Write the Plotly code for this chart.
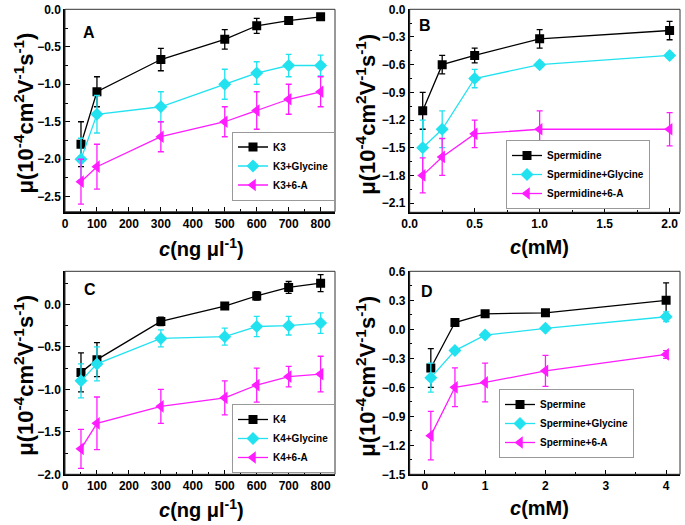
import plotly.graph_objects as go

# ---------------- data ----------------
conc_ng = [50, 100, 300, 500, 600, 700, 800]
conc_spd = [0.1, 0.25, 0.5, 1.0, 2.0]
conc_spm = [0.1, 0.5, 1, 2, 4]

# Panel A
k3 = [-1.8, -1.1, -0.67, -0.4, -0.22, -0.15, -0.1]
k3_err = [0.3, 0.2, 0.15, 0.13, 0.1, 0.03, 0.02]
k3_gly = [-2.0, -1.4, -1.3, -1.0, -0.85, -0.75, -0.75]
k3_gly_err = [0.28, 0.25, 0.2, 0.2, 0.15, 0.15, 0.14]
k3_6a = [-2.3, -2.1, -1.7, -1.5, -1.35, -1.2, -1.1]
k3_6a_err = [0.3, 0.3, 0.2, 0.2, 0.25, 0.2, 0.2]

# Panel B
spd = [-1.1, -0.6, -0.5, -0.32, -0.23]
spd_err = [0.2, 0.1, 0.08, 0.1, 0.1]
spd_gly = [-1.5, -1.3, -0.75, -0.6, -0.5]
spd_gly_err = [0.3, 0.2, 0.1, 0.03, 0.03]
spd_6a = [-1.8, -1.6, -1.35, -1.3, -1.3]
spd_6a_err = [0.19, 0.2, 0.15, 0.2, 0.18]

# Panel C
k4 = [-0.8, -0.65, -0.2, -0.02, 0.1, 0.2, 0.25]
k4_err = [0.23, 0.2, 0.05, 0.02, 0.05, 0.07, 0.1]
k4_gly = [-0.9, -0.7, -0.4, -0.38, -0.26, -0.25, -0.22]
k4_gly_err = [0.2, 0.2, 0.1, 0.1, 0.12, 0.11, 0.12]
k4_6a = [-1.7, -1.4, -1.2, -1.1, -0.95, -0.85, -0.82]
k4_6a_err = [0.23, 0.31, 0.2, 0.2, 0.2, 0.12, 0.21]

# Panel D
spm = [-0.4, 0.07, 0.16, 0.17, 0.3]
spm_err = [0.2, 0.02, 0.02, 0.02, 0.18]
spm_gly = [-0.5, -0.22, -0.06, 0.01, 0.13]
spm_gly_err = [0.15, 0.02, 0.02, 0.02, 0.05]
spm_6a = [-1.1, -0.6, -0.55, -0.43, -0.26]
spm_6a_err = [0.25, 0.2, 0.2, 0.16, 0.04]

panel_letters = ["A", "B", "C", "D"]
ytitle = "μ(10<sup>-4</sup>cm<sup>2</sup>V<sup>-1</sup>s<sup>-1</sup>)"
xtitle_ng = "<i>c</i>(ng μl<sup>-1</sup>)"
xtitle_mm = "<i>c</i>(mM)"

# ---------------- styling ----------------
W, H = 685, 525
FONT = "Liberation Sans, Arial, sans-serif"
BLACK = "#000000"
CYAN = "#22e2f0"
MAGENTA = "#ff1dff"

def px_x(v):
    return v / W

def px_y(v):
    return 1 - v / H

# plot areas in pixels (left, right, top, bottom)
areas = [
    (65, 335, 9.3, 211.7),
    (409.7, 680, 9.3, 212.3),
    (65, 335, 271.3, 474.3),
    (409.7, 680, 271.3, 474.3),
]

fig = go.Figure()

panels = [
    (conc_ng, [(k3, k3_err, "K3"), (k3_gly, k3_gly_err, "K3+Glycine"), (k3_6a, k3_6a_err, "K3+6-A")]),
    (conc_spd, [(spd, spd_err, "Spermidine"), (spd_gly, spd_gly_err, "Spermidine+Glycine"), (spd_6a, spd_6a_err, "Spermidine+6-A")]),
    (conc_ng, [(k4, k4_err, "K4"), (k4_gly, k4_gly_err, "K4+Glycine"), (k4_6a, k4_6a_err, "K4+6-A")]),
    (conc_spm, [(spm, spm_err, "Spermine"), (spm_gly, spm_gly_err, "Spermine+Glycine"), (spm_6a, spm_6a_err, "Spermine+6-A")]),
]
styles = [
    (BLACK, "square", 9),
    (CYAN, "diamond", 10),
    (MAGENTA, "triangle-left", 11),
]

for i, (xs, series) in enumerate(panels):
    sfx = "" if i == 0 else str(i + 1)
    for (ys, errs, name), (col, sym, sz) in zip(series, styles):
        fig.add_trace(go.Scatter(
            x=xs, y=ys, name=name, mode="lines+markers",
            xaxis="x" + sfx, yaxis="y" + sfx,
            legend="legend" + sfx,
            line=dict(color=col, width=1.3),
            marker=dict(color=col, symbol=sym, size=sz, line=dict(width=0)),
            error_y=dict(type="data", array=errs, color=col, thickness=1.3, width=3),
        ))

xranges = [[0, 845], [0, 2.08], [0, 845], [-0.25, 4.23]]
yranges = [[-2.7, 0], [-2.2, 0], [-2.0, 0.39], [-1.5, 0.6]]
xdt = [100, 0.5, 100, 1]
ydt = [0.5, 0.3, 0.5, 0.3]
xfmt = ["d", ".1f", "d", "d"]

layout = dict(
    width=W, height=H,
    margin=dict(l=0, r=0, t=0, b=0, autoexpand=False),
    paper_bgcolor="white", plot_bgcolor="white",
    font=dict(family=FONT, color=BLACK),
    showlegend=True,
)

tickfont = dict(family=FONT, size=12, color=BLACK, weight="bold")
shapes = []
annotations = []
legend_pos = [(232, 131.5), (506, 140), (232, 404), (499, 389)]
letter_pos = [(89, 33), (425, 25), (90, 289), (427, 291)]

for i in range(4):
    sfx = "" if i == 0 else str(i + 1)
    l, r, t, b = areas[i]
    layout["xaxis" + sfx] = dict(
        domain=[px_x(l), px_x(r)], range=xranges[i], anchor="y" + sfx,
        dtick=xdt[i], tick0=0, tickformat=xfmt[i], automargin=False,
        ticks="inside", ticklen=5, tickwidth=1.2, tickcolor=BLACK,
        minor=dict(ticks="inside", ticklen=3, tickwidth=1, tickcolor=BLACK, dtick=xdt[i] / 2),
        showline=True, linecolor=BLACK, linewidth=1.5, mirror=False,
        showgrid=False, zeroline=False, tickfont=tickfont,
    )
    layout["yaxis" + sfx] = dict(
        domain=[px_y(b), px_y(t)], range=yranges[i], anchor="x" + sfx,
        dtick=ydt[i], tick0=0, tickformat=".1f", automargin=False,
        ticks="inside", ticklen=5, tickwidth=1.2, tickcolor=BLACK,
        minor=dict(ticks="inside", ticklen=3, tickwidth=1, tickcolor=BLACK, dtick=ydt[i] / 2),
        showline=True, linecolor=BLACK, linewidth=1.5, mirror=False,
        showgrid=False, zeroline=False, tickfont=tickfont,
    )
    shapes.append(dict(
        type="rect", xref="x" + sfx + " domain", yref="y" + sfx + " domain",
        x0=0, x1=1, y0=0, y1=1, line=dict(color="#333333", width=1), layer="above",
    ))
    lx, ly = legend_pos[i]
    layout["legend" + sfx] = dict(
        x=px_x(lx), y=px_y(ly), xanchor="left", yanchor="top",
        xref="paper", yref="paper",
        bgcolor="white", bordercolor="#999999", borderwidth=1,
        font=dict(family=FONT, size=10, color=BLACK, weight="bold"),
        tracegroupgap=0,
    )
    ax, ay = letter_pos[i]
    annotations.append(dict(
        text=panel_letters[i], x=px_x(ax), y=px_y(ay), xref="paper", yref="paper",
        showarrow=False, xanchor="center", yanchor="middle",
        font=dict(family=FONT, size=16, color=BLACK, weight="bold"),
    ))
    # y title
    ytx = 24 if i in (0, 2) else 366
    annotations.append(dict(
        text=ytitle, x=px_x(ytx), y=px_y((t + b) / 2 + 3), xref="paper", yref="paper",
        showarrow=False, textangle=-90, xanchor="center", yanchor="middle",
        font=dict(family=FONT, size=22, color=BLACK, weight="bold"),
    ))
    # x title
    xt = xtitle_ng if i in (0, 2) else xtitle_mm
    xtx = 201 if i in (0, 2) else 539
    xty = 247 if i in (0, 1) else 508
    annotations.append(dict(
        text=xt, x=px_x(xtx), y=px_y(xty), xref="paper", yref="paper",
        showarrow=False, xanchor="center", yanchor="middle",
        font=dict(family=FONT, size=20, color=BLACK, weight="bold"),
    ))

layout["shapes"] = shapes
layout["annotations"] = annotations
fig.update_layout(**layout)

fig.write_html("out.html", config={"displayModeBar": False},
               post_script="document.body.style.margin='0';")
